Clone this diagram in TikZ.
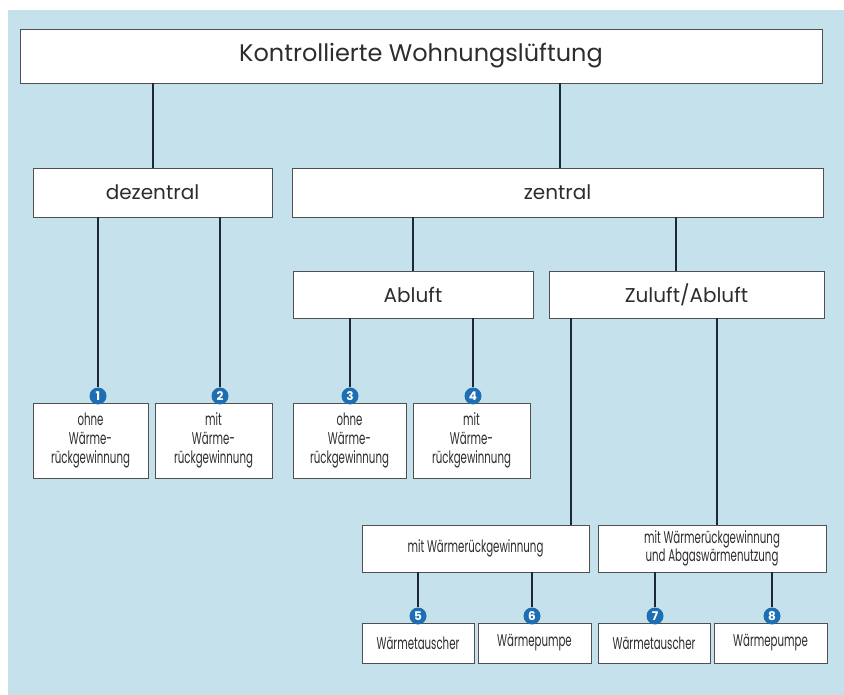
\documentclass[tikz,border=0pt]{standalone}
\usepackage{fontspec}
\setmainfont{Poppins}
\newfontfamily\condfont[FakeStretch=0.6]{Poppins}
\usetikzlibrary{calc}
\definecolor{skyback}{RGB}{197,226,236}
\definecolor{framegray}{RGB}{80,80,80}
\definecolor{linknavy}{RGB}{28,40,58}
\definecolor{badgeblue}{RGB}{30,110,180}
\definecolor{textgray}{RGB}{45,45,45}
\tikzset{
box/.style={draw=framegray,fill=white,line width=0.8pt,inner sep=0pt,align=center,text=textgray},
headbox/.style={box,font=\fontsize{24}{28}\selectfont},
catbox/.style={box,font=\fontsize{20}{24}\selectfont},
smallbox/.style={box,font=\condfont\fontsize{17}{19}\selectfont},
twobox/.style={box,font=\condfont\fontsize{17}{17}\selectfont},
badge/.style={circle,fill=badgeblue,text=white,inner sep=0pt,minimum size=17pt,font=\bfseries\fontsize{12}{12}\selectfont},
link/.style={draw=linknavy,line width=2pt}
}
\begin{document}
\begin{tikzpicture}[x=1pt,y=-1pt]
\useasboundingbox (0,0) rectangle (844,695);
\fill[white] (0,0) rectangle (844,695);
\fill[skyback] (8,10) rectangle (844,695);
\node[headbox,minimum width=802pt,minimum height=54pt] (kwl) at (421,56) {Kontrollierte Wohnungslüftung};
\node[catbox,minimum width=239pt,minimum height=49pt] (dez) at (152.5,192.5) {dezentral};
\node[catbox,minimum width=531pt,minimum height=49pt] (zen) at (557.5,192.5) {zentral};
\node[catbox,minimum width=240pt,minimum height=47pt] (abl) at (413,294.5) {Abluft};
\node[catbox,minimum width=275pt,minimum height=47pt] (zab) at (686.5,294.5) {Zuluft/Abluft};
\node[smallbox,minimum width=115pt,minimum height=75pt] (b1) at (90.5,440.5) {ohne\\Wärme-\\rückgewinnung};
\node[smallbox,minimum width=117pt,minimum height=75pt] (b2) at (213.5,440.5) {mit\\Wärme-\\rückgewinnung};
\node[smallbox,minimum width=113pt,minimum height=75pt] (b3) at (349.5,440.5) {ohne\\Wärme-\\rückgewinnung};
\node[smallbox,minimum width=117pt,minimum height=75pt] (b4) at (471.5,440.5) {mit\\Wärme-\\rückgewinnung};
\node[twobox,minimum width=227pt,minimum height=47pt] (wrg) at (475.5,548.5) {mit Wärmerückgewinnung};
\node[twobox,minimum width=228pt,minimum height=47pt] (wrga) at (712,548.5) {mit Wärmerückgewinnung\\und Abgaswärmenutzung};
\node[smallbox,minimum width=112pt,minimum height=40pt] (b5) at (418,643) {Wärmetauscher};
\node[smallbox,minimum width=113pt,minimum height=40pt] (b6) at (534.5,643) {Wärmepumpe};
\node[smallbox,minimum width=112pt,minimum height=40pt] (b7) at (654,643) {Wärmetauscher};
\node[smallbox,minimum width=113pt,minimum height=40pt] (b8) at (770.5,643) {Wärmepumpe};
\node[badge] (c1) at (98,396) {1};
\node[badge] (c2) at (220,396) {2};
\node[badge] (c3) at (350,396) {3};
\node[badge] (c4) at (473,396) {4};
\node[badge] (c5) at (418,616) {5};
\node[badge] (c6) at (532,616) {6};
\node[badge] (c7) at (655,616) {7};
\node[badge] (c8) at (772,616) {8};
\draw[link] (dez.north) -- (dez.north |- kwl.south);
\draw[link] ([xshift=2.5pt]zen.north) -- ([xshift=2.5pt]zen.north |- kwl.south);
\draw[link] (abl.north) -- (abl.north |- zen.south);
\draw[link] ([xshift=-11pt]zab.north) -- ([xshift=-11pt]zab.north |- zen.south);
\draw[link] (c1.north) -- (c1.north |- dez.south);
\draw[link] (c2.north) -- (c2.north |- dez.south);
\draw[link] (c3.north) -- (c3.north |- abl.south);
\draw[link] (c4.north) -- (c4.north |- abl.south);
\draw[link] ([xshift=-115.5pt]zab.south) -- ([xshift=-115.5pt]zab.south |- wrg.north);
\draw[link] ([xshift=30.5pt]zab.south) -- ([xshift=30.5pt]zab.south |- wrga.north);
\draw[link] (c5.north) -- (c5.north |- wrg.south);
\draw[link] (c6.north) -- (c6.north |- wrg.south);
\draw[link] (c7.north) -- (c7.north |- wrga.south);
\draw[link] (c8.north) -- (c8.north |- wrga.south);
\end{tikzpicture}
\end{document}
